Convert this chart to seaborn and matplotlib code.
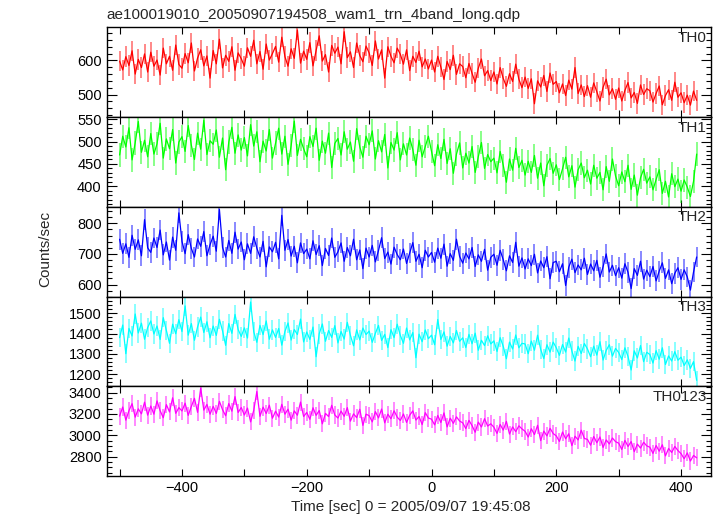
import numpy as np
import pandas as pd
import matplotlib
matplotlib.use("Agg")
import matplotlib.pyplot as plt
import seaborn as sns
from matplotlib.ticker import MultipleLocator

# time bins (sec), 5 s spacing
time_sec = np.arange(-500, 430, 5)

th0 = [598, 572, 611, 585, 628, 560, 603, 579, 619, 566,
       624, 583, 601, 557, 636, 590, 612, 571, 645, 588,
       577, 620, 593, 651, 569, 607, 631, 584, 613, 548,
       629, 590, 662, 578, 615, 597, 640, 571, 622, 605,
       583, 637, 612, 659, 590, 626, 574, 648, 601, 620,
       641, 595, 668, 611, 583, 634, 606, 689, 592, 627,
       603, 652, 584, 629, 672, 598, 617, 566, 644, 621,
       639, 590, 684, 608, 625, 579, 651, 614, 596, 642,
       622, 585, 657, 604, 631, 548, 640, 612, 593, 636,
       618, 589, 631, 570, 612, 594, 627, 581, 604, 575,
       601, 566, 612, 580, 544, 597, 573, 615, 559, 590,
       582, 549, 591, 562, 536, 577, 604, 555, 570, 541,
       566, 531, 579, 547, 524, 561, 538, 589, 545, 520,
       551, 518, 546, 473, 540, 522, 556, 509, 563, 530,
       538, 505, 531, 497, 542, 516, 579, 503, 528, 494,
       526, 492, 534, 508, 481, 521, 545, 499, 517, 486,
       519, 481, 512, 535, 490, 506, 474, 528, 500, 517,
       511, 478, 503, 525, 470, 497, 514, 483, 536, 492,
       505, 476, 498, 469, 510, 483]

th1 = [470, 512, 488, 531, 459, 497, 545, 476, 503, 466,
       518, 472, 495, 541, 463, 506, 484, 527, 452, 499,
       511, 478, 536, 492, 460, 519, 483, 548, 471, 502,
       494, 526, 465, 508, 437, 499, 532, 474, 515, 481,
       509, 468, 538, 490, 522, 455, 501, 479, 527, 463,
       497, 530, 472, 512, 449, 491, 546, 469, 505, 484,
       466, 511, 489, 530, 458, 501, 474, 519, 442, 496,
       507, 470, 522, 483, 499, 456, 529, 488, 465, 512,
       493, 524, 461, 502, 477, 516, 441, 498, 481, 520,
       459, 495, 470, 508, 482, 447, 503, 466, 489, 512,
       478, 446, 493, 462, 505, 451, 484, 429, 472, 497,
       441, 474, 452, 489, 431, 466, 498, 440, 471, 455,
       463, 430, 478, 447, 409, 461, 436, 485, 442, 458,
       425, 456, 431, 469, 418, 452, 401, 447, 462, 429,
       448, 415, 439, 465, 421, 446, 398, 437, 452, 419,
       436, 405, 447, 418, 431, 392, 444, 411, 461, 423,
       401, 432, 410, 447, 393, 425, 380, 419, 438, 407,
       421, 392, 415, 437, 384, 411, 376, 428, 399, 416,
       389, 414, 398, 377, 411, 472]

th2 = [748, 702, 733, 689, 761, 715, 746, 694, 812, 720,
       705, 752, 721, 778, 697, 739, 680, 755, 712, 834,
       741, 701, 763, 718, 690, 749, 725, 773, 694, 730,
       758, 709, 845, 721, 690, 744, 702, 771, 716, 739,
       681, 733, 702, 756, 719, 690, 741, 658, 723, 707,
       738, 684, 826, 712, 747, 693, 725, 671, 736, 701,
       716, 684, 743, 698, 727, 662, 718, 695, 752, 689,
       707, 736, 676, 721, 694, 748, 681, 713, 652, 719,
       690, 728, 674, 711, 753, 685, 706, 667, 722, 698,
       681, 716, 669, 703, 737, 676, 699, 655, 712, 690,
       705, 673, 719, 686, 732, 660, 701, 679, 748, 692,
       670, 703, 684, 721, 659, 697, 676, 715, 647, 689,
       699, 663, 712, 681, 645, 694, 672, 738, 660, 687,
       651, 684, 662, 699, 638, 677, 655, 691, 619, 672,
       676, 642, 668, 597, 657, 683, 639, 664, 648, 686,
       633, 667, 645, 679, 624, 658, 700, 641, 663, 629,
       655, 621, 668, 640, 587, 652, 630, 676, 618, 647,
       626, 659, 612, 644, 671, 620, 648, 603, 637, 655,
       617, 648, 625, 582, 641, 690]

th3 = [1380, 1442, 1301, 1425, 1388, 1496, 1403, 1451, 1372, 1430,
       1462, 1398, 1437, 1371, 1478, 1415, 1352, 1446, 1399, 1468,
       1410, 1536, 1392, 1449, 1367, 1433, 1481, 1405, 1458, 1379,
       1437, 1391, 1470, 1413, 1342, 1449, 1401, 1494, 1420, 1386,
       1428, 1378, 1555, 1409, 1357, 1440, 1395, 1462, 1372, 1418,
       1381, 1425, 1343, 1410, 1452, 1368, 1420, 1395, 1471, 1359,
       1408, 1371, 1432, 1286, 1399, 1447, 1362, 1415, 1381, 1439,
       1354, 1410, 1373, 1455, 1391, 1340, 1418, 1369, 1427, 1395,
       1412, 1357, 1401, 1440, 1366, 1396, 1331, 1419, 1380, 1446,
       1391, 1352, 1427, 1369, 1405, 1281, 1397, 1360, 1418, 1375,
       1392, 1345, 1469, 1371, 1408, 1338, 1386, 1354, 1415, 1362,
       1379, 1331, 1396, 1350, 1402, 1318, 1367, 1341, 1389, 1349,
       1364, 1312, 1380, 1337, 1276, 1358, 1324, 1393, 1330, 1352,
       1349, 1301, 1363, 1318, 1392, 1322, 1277, 1345, 1309, 1358,
       1330, 1293, 1346, 1309, 1378, 1314, 1265, 1337, 1302, 1351,
       1324, 1286, 1338, 1294, 1360, 1270, 1317, 1345, 1289, 1327,
       1307, 1272, 1330, 1287, 1221, 1315, 1280, 1341, 1262, 1308,
       1297, 1255, 1316, 1274, 1330, 1248, 1290, 1265, 1311, 1269,
       1284, 1243, 1271, 1229, 1262, 1170]

th0123 = [3180, 3265, 3142, 3231, 3296, 3170, 3248, 3201, 3310, 3189,
          3274, 3198, 3322, 3230, 3165, 3287, 3219, 3351, 3206, 3259,
          3228, 3301, 3187, 3270, 3346, 3215, 3442, 3236, 3289, 3198,
          3271, 3205, 3318, 3240, 3183, 3297, 3226, 3362, 3214, 3260,
          3190, 3255, 3126, 3233, 3410, 3178, 3264, 3204, 3282, 3160,
          3226, 3171, 3290, 3198, 3245, 3142, 3229, 3188, 3311, 3176,
          3214, 3150, 3258, 3187, 3232, 3108, 3205, 3176, 3281, 3190,
          3162, 3227, 3178, 3259, 3133, 3201, 3166, 3244, 3093, 3198,
          3184, 3126, 3222, 3163, 3246, 3117, 3198, 3155, 3230, 3170,
          3139, 3200, 3121, 3188, 3229, 3143, 3176, 3101, 3212, 3162,
          3151, 3098, 3186, 3120, 3210, 3079, 3161, 3112, 3173, 3134,
          3117, 3063, 3140, 3091, 3029, 3124, 3078, 3156, 3087, 3108,
          3076, 3018, 3102, 3049, 3131, 3012, 3079, 3034, 3089, 3060,
          3038, 2984, 3062, 3007, 3094, 2951, 3040, 2995, 3066, 3017,
          2995, 2943, 3031, 2968, 3015, 2904, 2992, 2957, 3048, 2971,
          2962, 2908, 2989, 2931, 2985, 2887, 2957, 2920, 2975, 2941,
          2927, 2868, 2953, 2896, 2942, 2848, 2918, 2881, 2935, 2902,
          2889, 2831, 2905, 2852, 2912, 2808, 2877, 2840, 2896, 2858,
          2829, 2781, 2836, 2760, 2812, 2790]

bands = ["TH0", "TH1", "TH2", "TH3", "TH0123"]
series = [th0, th1, th2, th3, th0123]
errors = [30, 26, 34, 48, 80]
colors = ["#ff0000", "#00ff00", "#0000ff", "#00ffff", "#ff00ff"]
ylims = [(434, 697), (354, 555), (561, 854), (1141, 1582), (2620, 3459)]
major_step = [100, 50, 100, 100, 200]
minor_step = [20, 10, 20, 20, 50]

sns.set_style("ticks")
plt.rcParams['font.family'] = ['Liberation Sans', 'DejaVu Sans']
plt.rcParams['font.size'] = 10.5

fig = plt.figure(figsize=(7.17, 5.16), dpi=100)
left, width = 106.5 / 717, (711 - 106.5) / 717
top_px, bot_px = 27.3, 476.0
h_px = (bot_px - top_px) / 5

axes = []
for i in range(5):
    y0 = 1 - (top_px + (i + 1) * h_px) / 516
    ax = fig.add_axes([left, y0, width, h_px / 516])
    axes.append(ax)

    df = pd.DataFrame({"time": time_sec, "rate": series[i]})
    # thin light error bars behind the curve
    ax.vlines(df["time"], df["rate"] - errors[i], df["rate"] + errors[i],
              color=colors[i], alpha=0.5, linewidth=1.3)
    sns.lineplot(data=df, x="time", y="rate", ax=ax, color=colors[i],
                 linewidth=0.9, estimator=None)

    ax.set_xlim(-521, 448)
    ax.set_ylim(*ylims[i])
    ax.xaxis.set_major_locator(MultipleLocator(200))
    ax.xaxis.set_minor_locator(MultipleLocator(100))
    ax.yaxis.set_major_locator(MultipleLocator(major_step[i]))
    ax.yaxis.set_minor_locator(MultipleLocator(minor_step[i]))
    ax.tick_params(which="both", direction="in", top=True, right=True,
                   labelsize=10.5, width=0.8, colors="black")
    ax.tick_params(which="major", axis="y", length=7)
    ax.tick_params(which="minor", axis="y", length=3.5)
    ax.tick_params(which="both", axis="x", length=5)
    ax.set_xlabel("")
    ax.set_ylabel("")
    if i < 4:
        ax.tick_params(axis="x", labelbottom=False)
    for s in ax.spines.values():
        s.set_linewidth(1.0)
        s.set_color("black")
    ax.text(0.993, 0.96, bands[i], transform=ax.transAxes, ha="right",
            va="top", fontsize=11)

fig.text(left, 1 - 15 / 516, "ae100019010_20050907194508_wam1_trn_4band_long.qdp",
         ha="left", va="center", fontsize=11)
fig.text(45 / 717, 1 - 249 / 516, "Counts/sec", rotation=90,
         ha="center", va="center", fontsize=11)
fig.text(411 / 717, 1 - 507 / 516, "Time [sec] 0 = 2005/09/07 19:45:08",
         ha="center", va="center", fontsize=11)

fig.savefig("out.png", dpi=100)
